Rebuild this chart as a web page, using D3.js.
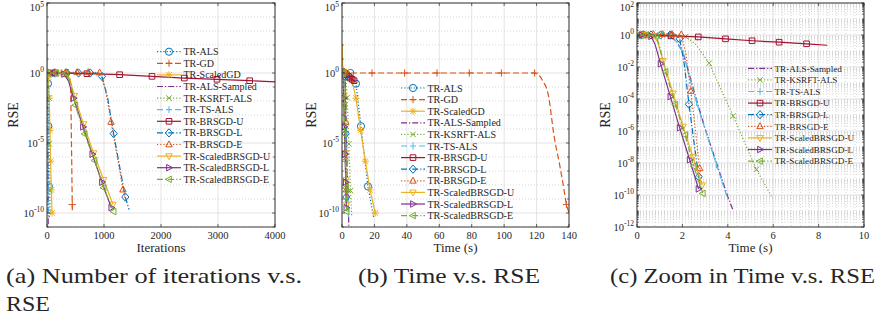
<!DOCTYPE html>
<html>
<head>
<meta charset="utf-8">
<script src="https://cdn.jsdelivr.net/npm/d3@7"></script>
<style>
  body { margin: 0; background: #fff; }
  svg { display: block; }
  text { font-family: "Liberation Serif", Tinos, "Times New Roman", Times, "Nimbus Roman", "DejaVu Serif", "Noto Serif", serif; fill: #262626; }
</style>
</head>
<body>
<svg id="fig" width="878" height="320"></svg>
<script>
// ---- data ----
// each method: RSE as log10 exponents, and the matching x for (a) iterations and (b,c) seconds
const names = ["TR-ALS", "TR-GD", "TR-ScaledGD", "TR-ALS-Sampled", "TR-KSRFT-ALS", "TR-TS-ALS",
  "TR-BRSGD-U", "TR-BRSGD-L", "TR-BRSGD-E", "TR-ScaledBRSGD-U", "TR-ScaledBRSGD-L", "TR-ScaledBRSGD-E"];

const alsExp   = [0.05, 0.05, 0, -0.76, -3.8, -8.1, -10.3];
const alsIters = [0, 3, 10, 17, 23, 32, 39];
const alsSecs  = [0, 1.6, 5.1, 8.6, 11.7, 16.0, 19.5];

const gdExp   = [0, 0, 0, 0, 0, 0, 0, -0.1, -0.3, -0.6, -0.9, -1.2, -1.7, -2.5, -3.4, -4.3, -5.3, -6.4, -7.7, -9.4, -10];
const gdIters = [0, 60, 123, 187, 250, 313, 378, 390, 398, 405, 410, 414, 418, 421, 424, 427, 430, 434, 438, 443, 446];
const gdSecs  = [0, 18.5, 38.6, 58.6, 78.5, 98.3, 118.8, 121, 122.5, 124, 125.5, 126.5, 127.5, 128.5, 129.5, 130.5, 132, 134, 136, 138.4, 140];

const scaledGdExp   = [2.1, 0.5, 0.05, -0.3, -1.8, -4.1, -6.3, -8.35, -10];
const scaledGdIters = [0, 2, 12, 28, 40, 52, 64, 76, 88];
const scaledGdSecs  = [0.1, 0.4, 2.8, 5.7, 8.6, 11.5, 14.4, 17.3, 20.5];

const sampledExp   = [0, 0, 0, -0.05, -0.4, -1.2, -2.7, -4.2, -5.85, -8.0, -10.1, -10.95];
const sampledIters = [0, 2, 4, 6, 8, 10, 12, 14, 16, 18, 20, 22];
const sampledSecs  = [0, 0.5, 1.0, 1.4, 1.75, 2.05, 2.35, 2.65, 3.0, 3.5, 4.0, 4.23];

const ksrftExp   = [0.05, 0.02, -0.1, -0.6, -1.76, -3.4, -5.06, -6.75, -8.4, -10.2];
const ksrftIters = [0, 10, 20, 24, 30, 35, 40, 45, 50, 57];
const ksrftSecs  = [0, 1.1, 2.14, 2.6, 3.18, 3.7, 4.24, 4.75, 5.26, 5.97];

const tsExp   = [0, 0, 0, -0.05, -0.35, -1.13, -2.6, -4.2, -5.9, -8.1, -10.3];
const tsIters = [0, 2, 4, 6, 8, 10, 12, 14, 16, 18, 20];
const tsSecs  = [0, 0.5, 1.0, 1.4, 1.7, 2.03, 2.3, 2.62, 3.0, 3.5, 4.01];

const bruExp   = [0.02, 0, -0.05, -0.12, -0.24, -0.36, -0.45, -0.55, -0.64];
const bruIters = [0, 126, 700, 1274, 1842, 2409, 2982, 3556, 4000];
const bruSecs  = [0, 0.3, 1.5, 2.7, 3.9, 5.07, 6.26, 7.47, 8.38];

const brlExp   = [0, 0, 0, 0, 0, -0.03, -0.24, -1.8, -4.33, -6.6, -8.86, -9.75];
const brlIters = [0, 144, 349, 554, 759, 900, 964, 1065, 1169, 1270, 1374, 1440];
const brlSecs  = [0, 0.2, 0.62, 1.04, 1.46, 1.75, 1.88, 2.08, 2.29, 2.5, 2.72, 2.8];

const breExp   = [0.05, 0.05, 0.05, 0.05, 0.05, 0.03, -1.2, -3.5, -5.9, -8.33, -9.2];
const breIters = [0, 131, 329, 527, 725, 923, 1030, 1123, 1230, 1333, 1380];
const breSecs  = [0, 0.3, 0.72, 1.13, 1.54, 1.95, 2.16, 2.37, 2.57, 2.76, 2.84];

const sbuExp   = [0, 0, -0.05, -0.4, -1.62, -3.65, -5.72, -7.63, -9.39];
const sbuIters = [0, 150, 315, 400, 479, 643, 818, 993, 1158];
const sbuSecs  = [0, 0.27, 0.71, 0.9, 1.15, 1.59, 2.03, 2.47, 2.87];

const sblExp   = [0, 0, -0.08, -0.6, -1.8, -3.85, -5.8, -7.8, -9.62];
const sblIters = [0, 137, 302, 380, 467, 632, 795, 965, 1128];
const sblSecs  = [0, 0.2, 0.62, 0.8, 1.04, 1.47, 1.88, 2.32, 2.71];

const sbeExp   = [0, 0, -0.05, -0.7, -2.3, -4.35, -6.25, -8.2, -9.9];
const sbeIters = [0, 165, 330, 410, 497, 660, 835, 993, 1169];
const sbeSecs  = [0, 0.4, 0.83, 1.0, 1.26, 1.69, 2.12, 2.5, 2.9];

// which points carry a marker
const markerIdx = [
  [2, 3, 4, 5], [0, 1, 2, 3, 4, 5, 6, 19], [2, 3, 4, 5, 6, 7, 8], [], [0, 1, 2, 4, 6, 8], [1, 3, 5, 7, 9],
  [1, 2, 3, 4, 5, 6, 7], [1, 2, 3, 4, 6, 8, 10], [1, 2, 3, 4, 5, 7, 9],
  [1, 2, 4, 5, 6, 7, 8], [1, 2, 4, 5, 6, 7, 8], [1, 2, 4, 5, 6, 7, 8]
];

const captions = [["(a) Number of iterations v.s.", "RSE"], ["(b) Time v.s. RSE"], ["(c) Zoom in Time v.s. RSE"]];

// ---- styling ----
const styles = [
  { c: "#0072BD", dash: "1.2,2", mk: "circle" },
  { c: "#D95319", dash: "6,3", mk: "plus" },
  { c: "#EDB120", dash: null, mk: "star" },
  { c: "#7E2F8E", dash: "6,2,1.2,2", mk: null },
  { c: "#77AC30", dash: "1.2,2", mk: "x" },
  { c: "#4DBEEE", dash: "6,3", mk: "vbar" },
  { c: "#A2142F", dash: null, mk: "square" },
  { c: "#0072BD", dash: "6,2,1.2,2", mk: "diamond" },
  { c: "#D95319", dash: "1.2,2", mk: "up" },
  { c: "#EDB120", dash: null, mk: "down" },
  { c: "#7E2F8E", dash: null, mk: "right" },
  { c: "#77AC30", dash: "6,2,1.2,2", mk: "left" }
];

const series = [
  [alsExp, alsIters, alsSecs], [gdExp, gdIters, gdSecs], [scaledGdExp, scaledGdIters, scaledGdSecs],
  [sampledExp, sampledIters, sampledSecs], [ksrftExp, ksrftIters, ksrftSecs], [tsExp, tsIters, tsSecs],
  [bruExp, bruIters, bruSecs], [brlExp, brlIters, brlSecs], [breExp, breIters, breSecs],
  [sbuExp, sbuIters, sbuSecs], [sblExp, sblIters, sblSecs], [sbeExp, sbeIters, sbeSecs]
].map(([e, it, s], i) => ({
  name: names[i], style: styles[i], marks: markerIdx[i],
  iters: it.map((x, j) => [x, e[j]]),
  secs: s.map((x, j) => [x, e[j]])
}));

const panels = [
  { left: 47, right: 275, xMax: 4000, xStep: 1000, eMin: -11, eMax: 5, eLab: [5, 0, -5, -10], minorAll: false,
    key: "iters", xLabel: "Iterations", yLabX: 13, legX: 157, legY: 51.7, legFont: 10, members: d3.range(12),
    capX: 6, capW: [296, 44] },
  { left: 342, right: 569, xMax: 140, xStep: 20, eMin: -11, eMax: 5, eLab: [5, 0, -5, -10], minorAll: false,
    key: "secs", xLabel: "Time (s)", yLabX: 311, legX: 401, legY: 88, legFont: 10, members: d3.range(12),
    capX: 358, capW: [182] },
  { left: 637, right: 864, xMax: 10, xStep: 2, eMin: -12, eMax: 2, eLab: [2, 0, -2, -4, -6, -8, -10, -12], minorAll: true,
    key: "secs", xLabel: "Time (s)", yLabX: 605, legX: 748, legY: 68.3, legFont: 9.2, members: d3.range(3, 12),
    capX: 610, capW: [265], xMinor: 0.4 }
];
const plotTop = 3, plotBottom = 227;

function markerPath(type, r) {
  const a = r * 0.78;
  switch (type) {
    case "circle": return `M${-r},0a${r},${r} 0 1,0 ${2 * r},0a${r},${r} 0 1,0 ${-2 * r},0`;
    case "plus": return `M${-r},0H${r}M0,${-r}V${r}`;
    case "x": return `M${-a},${-a}L${a},${a}M${-a},${a}L${a},${-a}`;
    case "star": return `M${-r},0H${r}M0,${-r}V${r}M${-a},${-a}L${a},${a}M${-a},${a}L${a},${-a}`;
    case "vbar": return `M0,${-r}V${r}`;
    case "square": return `M${-a},${-a}H${a}V${a}H${-a}Z`;
    case "diamond": return `M0,${-r * 1.15}L${r},0L0,${r * 1.15}L${-r},0Z`;
    case "up": return `M0,${-r}L${r * 0.9},${r * 0.65}L${-r * 0.9},${r * 0.65}Z`;
    case "down": return `M0,${r}L${r * 0.9},${-r * 0.65}L${-r * 0.9},${-r * 0.65}Z`;
    case "right": return `M${r},0L${-r * 0.65},${r * 0.9}L${-r * 0.65},${-r * 0.9}Z`;
    case "left": return `M${-r},0L${r * 0.65},${r * 0.9}L${r * 0.65},${-r * 0.9}Z`;
  }
  return "";
}

const svg = d3.select("#fig");
const axisCol = "#262626";

panels.forEach((p, pi) => {
  const x = d3.scaleLinear().domain([0, p.xMax]).range([p.left, p.right]);
  const y = d3.scaleLog().domain([10 ** p.eMin, 10 ** p.eMax]).range([plotBottom, plotTop]);
  const g = svg.append("g");

  // grid
  const minorVals = [];
  for (let e = p.eMin; e < p.eMax; e++) {
    if (p.minorAll) {
      for (let k = 1; k <= 9; k++) {
        if (k === 1 && p.eLab.includes(e)) continue;
        minorVals.push(k * 10 ** e);
      }
    } else if (!p.eLab.includes(e)) minorVals.push(10 ** e);
  }
  g.selectAll(".hmin").data(minorVals).enter().append("line")
    .attr("x1", p.left).attr("x2", p.right)
    .attr("y1", d => y(d)).attr("y2", d => y(d))
    .attr("stroke", "#bdbdbd").attr("stroke-width", 0.6).attr("stroke-dasharray", "1,2");
  if (p.xMinor) {
    const vm = d3.range(p.xMinor, p.xMax, p.xMinor).filter(v => Math.abs(v / p.xStep - Math.round(v / p.xStep)) > 1e-6);
    g.selectAll(".vmin").data(vm).enter().append("line")
      .attr("x1", d => x(d)).attr("x2", d => x(d))
      .attr("y1", plotTop).attr("y2", plotBottom)
      .attr("stroke", "#bdbdbd").attr("stroke-width", 0.6).attr("stroke-dasharray", "1,2");
  }
  g.selectAll(".hmaj").data(p.eLab.map(e => 10 ** e)).enter().append("line")
    .attr("x1", p.left).attr("x2", p.right)
    .attr("y1", d => y(d)).attr("y2", d => y(d))
    .attr("stroke", "#dcdcdc").attr("stroke-width", 0.8);
  const xt = d3.range(0, p.xMax + 1e-9, p.xStep);
  g.selectAll(".vmaj").data(xt).enter().append("line")
    .attr("x1", d => x(d)).attr("x2", d => x(d))
    .attr("y1", plotTop).attr("y2", plotBottom)
    .attr("stroke", "#dcdcdc").attr("stroke-width", 0.8);

  // clip
  const cid = "clip" + pi;
  svg.append("clipPath").attr("id", cid).append("rect")
    .attr("x", p.left).attr("y", plotTop).attr("width", p.right - p.left).attr("height", plotBottom - plotTop);
  const plot = g.append("g").attr("clip-path", `url(#${cid})`);

  const line = d3.line().x(d => x(d[0])).y(d => y(10 ** d[1]));
  p.members.forEach(i => {
    const s = series[i];
    const pts = s[p.key];
    plot.append("path").attr("d", line(pts))
      .attr("fill", "none").attr("stroke", s.style.c).attr("stroke-width", 1.2)
      .attr("stroke-dasharray", s.style.dash);
    if (s.style.mk) {
      plot.selectAll(null).data(s.marks.map(j => pts[j])).enter().append("path")
        .attr("transform", d => `translate(${x(d[0])},${y(10 ** d[1])})`)
        .attr("d", markerPath(s.style.mk, 3.6))
        .attr("fill", "none").attr("stroke", s.style.c).attr("stroke-width", 1);
    }
  });

  // box and ticks
  g.append("rect").attr("x", p.left).attr("y", plotTop).attr("width", p.right - p.left).attr("height", plotBottom - plotTop)
    .attr("fill", "none").attr("stroke", axisCol).attr("stroke-width", 0.9);
  const tick = (x1, y1, x2, y2) => g.append("line").attr("x1", x1).attr("y1", y1).attr("x2", x2).attr("y2", y2)
    .attr("stroke", axisCol).attr("stroke-width", 0.7);
  xt.forEach(v => { tick(x(v), plotBottom, x(v), plotBottom - 3); tick(x(v), plotTop, x(v), plotTop + 3); });
  p.eLab.forEach(e => { tick(p.left, y(10 ** e), p.left + 3, y(10 ** e)); tick(p.right, y(10 ** e), p.right - 3, y(10 ** e)); });
  minorVals.forEach(v => { tick(p.left, y(v), p.left + 1.8, y(v)); tick(p.right, y(v), p.right - 1.8, y(v)); });

  // tick labels
  g.selectAll(".xl").data(xt).enter().append("text")
    .attr("x", d => x(d)).attr("y", plotBottom + 11.5).attr("text-anchor", "middle").attr("font-size", 10.5)
    .text(d => d3.format("d")(d));
  p.eLab.forEach(e => {
    // the top label sits against the edge; keep its exponent inside the page
    const yy = Math.max(y(10 ** e) + 3.5, 11);
    const t = g.append("text").attr("x", p.left - 3).attr("y", yy)
      .attr("text-anchor", "end").attr("font-size", 10.5);
    t.append("tspan").text("10");
    t.append("tspan").attr("dy", -4.5).attr("font-size", 7.5).text(e);
  });

  // axis labels
  g.append("text").attr("x", (p.left + p.right) / 2).attr("y", 252).attr("text-anchor", "middle")
    .attr("font-size", 13).text(p.xLabel);
  g.append("text").attr("transform", `translate(${p.yLabX},115) rotate(-90)`).attr("text-anchor", "middle")
    .attr("dy", "0.35em").attr("font-size", 14).text("RSE");

  // legend
  p.members.forEach((i, k) => {
    const s = series[i];
    const ly = p.legY + k * 11.6;
    g.append("line").attr("x1", p.legX).attr("x2", p.legX + 24).attr("y1", ly).attr("y2", ly)
      .attr("stroke", s.style.c).attr("stroke-width", 1.2).attr("stroke-dasharray", s.style.dash);
    if (s.style.mk) {
      g.append("path").attr("transform", `translate(${p.legX + 12},${ly})`)
        .attr("d", markerPath(s.style.mk, 3.6)).attr("fill", "none")
        .attr("stroke", s.style.c).attr("stroke-width", 1);
    }
    g.append("text").attr("x", p.legX + 26.5).attr("y", ly).attr("dy", "0.35em")
      .attr("font-size", p.legFont).text(s.name);
  });

  // caption
  captions[pi].forEach((c, k) => {
    svg.append("text").attr("x", p.capX).attr("y", 283 + k * 28).attr("font-size", 21)
      .attr("textLength", p.capW[k]).attr("lengthAdjust", "spacingAndGlyphs").text(c);
  });
});
</script>
</body>
</html>
